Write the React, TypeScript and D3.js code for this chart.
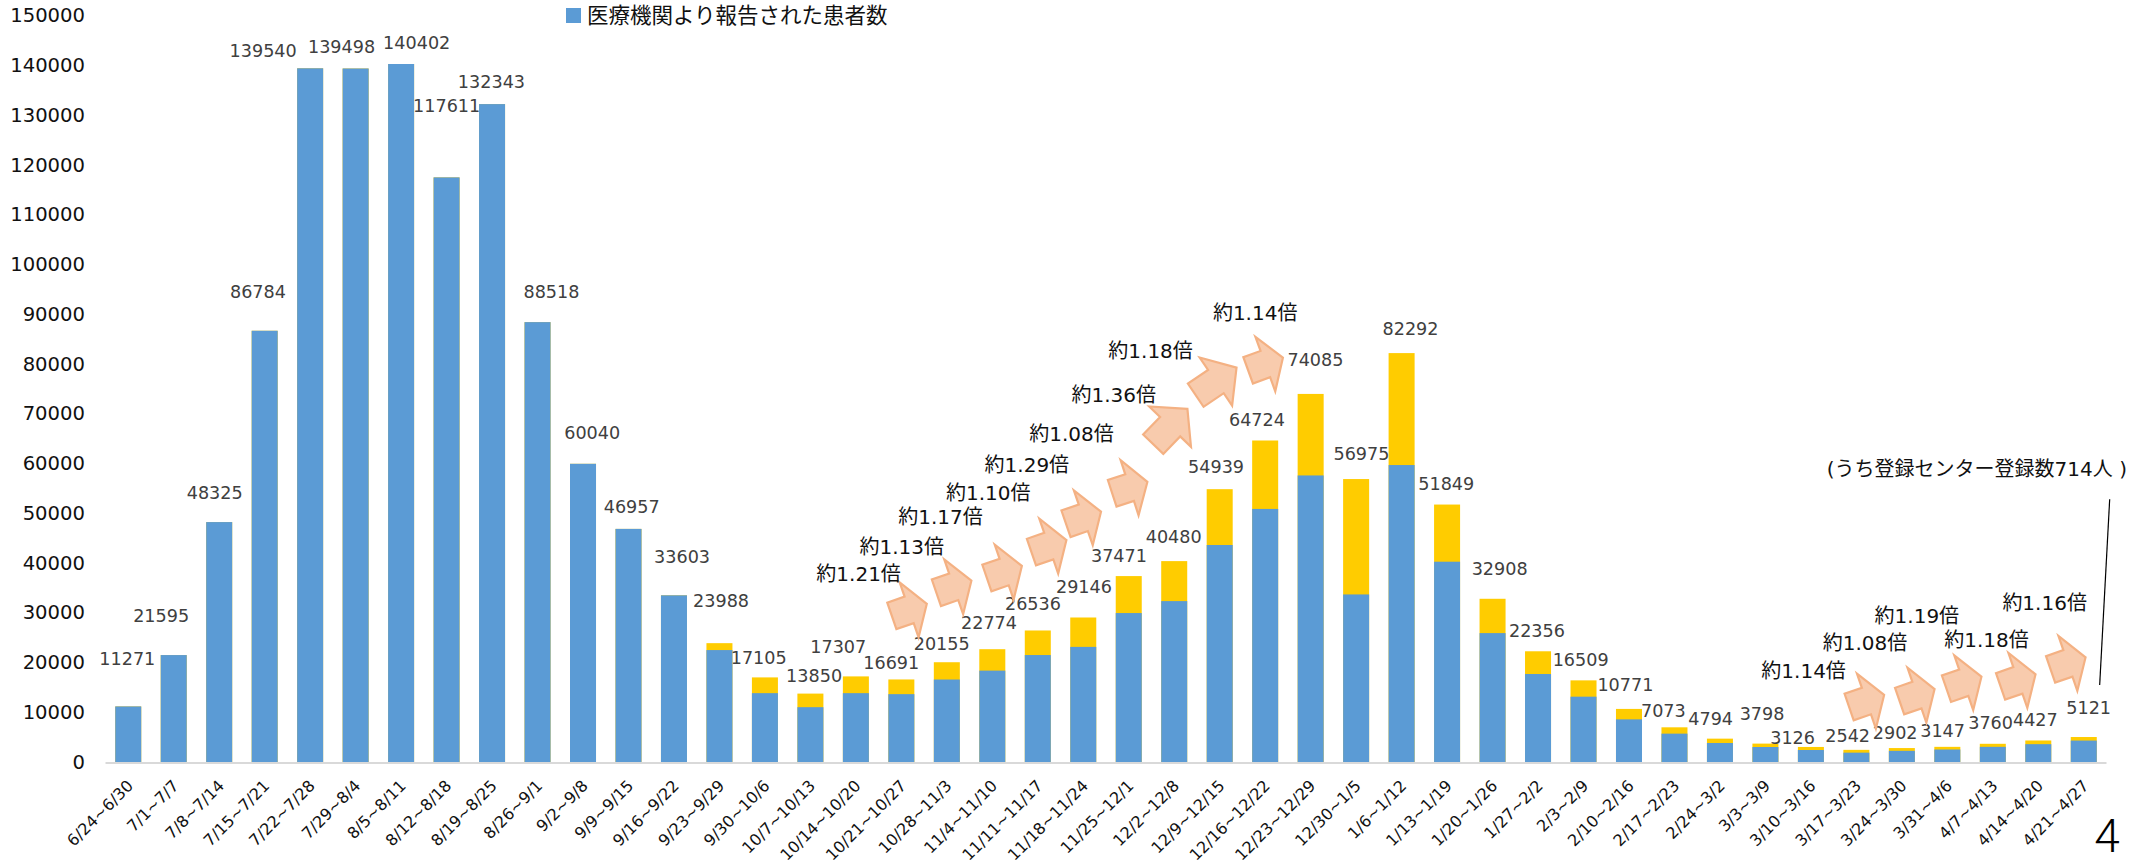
import React from "react";
import * as d3 from "d3";

const categories = ["6/24~6/30","7/1~7/7","7/8~7/14","7/15~7/21","7/22~7/28","7/29~8/4","8/5~8/11","8/12~8/18","8/19~8/25","8/26~9/1","9/2~9/8","9/9~9/15","9/16~9/22","9/23~9/29","9/30~10/6","10/7~10/13","10/14~10/20","10/21~10/27","10/28~11/3","11/4~11/10","11/11~11/17","11/18~11/24","11/25~12/1","12/2~12/8","12/9~12/15","12/16~12/22","12/23~12/29","12/30~1/5","1/6~1/12","1/13~1/19","1/20~1/26","1/27~2/2","2/3~2/9","2/10~2/16","2/17~2/23","2/24~3/2","3/3~3/9","3/10~3/16","3/17~3/23","3/24~3/30","3/31~4/6","4/7~4/13","4/14~4/20","4/21~4/27"];
const totals = [11271,21595,48325,86784,139540,139498,140402,117611,132343,88518,60040,46957,33603,23988,17105,13850,17307,16691,20155,22774,26536,29146,37471,40480,54939,64724,74085,56975,82292,51849,32908,22356,16509,10771,7073,4794,3798,3126,2542,2902,3147,3760,4427,5121];
const reported = [11271,21595,48325,86784,139540,139498,140402,117611,132343,88518,60040,46957,33603,22600,13940,11120,13940,13740,16680,18470,21600,23240,30040,32440,43720,50970,57700,33780,59790,40360,26010,17790,13230,8670,5800,3920,3115,2510,1980,2345,2610,3150,3685,4407];
const yTicks = [0,10000,20000,30000,40000,50000,60000,70000,80000,90000,100000,110000,120000,130000,140000,150000];
const legendLabel = "医療機関より報告された患者数";

// hand-placed label offsets from the top centre of each bar
const labelDx = [-0.9,-12.6,-4.5,-6.7,-47,-14.1,15.6,0.1,-0.6,13.9,9.2,3.2,8.1,1.6,-6.2,3.7,-17.6,-10.1,-5.1,-3.3,-4.8,0.7,-9.8,-0.5,-3.6,-8.2,4.8,5.3,8.9,-0.8,7.1,-1.1,-2.9,-3.6,-11.1,-9.3,-3.4,-18.3,-8.7,-6.7,-4.7,-2.2,-2.9,4.9];
const labelDy = [-47.4,-39.4,-28.8,-39.1,-17.6,-21.8,-21.3,-71.7,-22.4,-30.4,-30.5,-22.2,-38.6,-42.5,-19.7,-17.9,-29.1,-16.8,-18.5,-26.5,-26.5,-30.2,-20.1,-24.6,-22.6,-20,-33.6,-25.4,-24.4,-20.8,-30,-20.7,-20.8,-24.4,-16.1,-19.9,-29.4,-9.4,-13.4,-15.3,-16.2,-20.8,-20.5,-29.5];

// growth ratios: text, text anchor (category position, value)
const ratioText = ["約1.21倍","約1.13倍","約1.17倍","約1.10倍","約1.29倍","約1.08倍","約1.36倍","約1.18倍","約1.14倍","約1.14倍","約1.08倍","約1.19倍","約1.18倍","約1.16倍"];
const ratioPos = [16.06,17.01,17.86,18.91,19.76,20.74,21.67,22.48,24.78,36.84,38.19,39.33,40.86,42.14];
const ratioVal = [37830,43380,49410,54110,59800,66030,73870,82790,90290,18390,24120,29370,24620,31980];

// arrows: tip (category position, value), rotation, length stretch
const arrowPos = [17.56,18.54,19.65,20.63,21.39,22.41,23.29,24.37,25.39,38.61,39.72,40.75,41.94,43.04];
const arrowVal = [31900,36540,39500,44720,50410,56400,71100,79360,81370,13570,14770,17250,17730,21150];
const arrowRot = [-19,-19,-19,-19,-19,-18,-46,-34,-20,-19,-19,-19,-19,-19];
const arrowLen = [1,1,1,1,1,1,1.33,1.33,1,1,1,1,1,1];

const noteText = "(うち登録センター登録数714人 )";
const noteAnchor = [40.65, 59000];
const leaderFrom = [43.57, 52900];
const leaderTo = [43.35, 15580];
const pageNumber = "4";

const FONT = "'DejaVu Sans','Noto Sans CJK JP',sans-serif";

export default function App() {
  const x = d3.scaleBand<string>().domain(categories).range([105.5, 2106.5]).paddingInner(0.428).paddingOuter(0.214);
  const y = d3.scaleLinear().domain([0, 150000]).range([762.5, 16.25]);
  const cx = d3.scaleLinear()
    .domain([0, categories.length - 1])
    .range([x(categories[0])! + x.bandwidth() / 2, x(categories[categories.length - 1])! + x.bandwidth() / 2]);
  const arrowPath = (s: number) => {
    const line = d3.line();
    const hl = 18.7 * s, l = 37 * s;
    return line([[0,0],[-hl,-29],[-hl,-14],[-l,-14],[-l,14],[-hl,14],[-hl,29]])! + "Z";
  };
  return (
    <svg width={2146} height={863} style={{ position: "absolute", left: 0, top: 0, display: "block", background: "#fff" }} fontFamily={FONT}>
      {yTicks.map((t) => (
        <text key={t} x={85} y={y(t) - 0.5} textAnchor="end" dominantBaseline="central" fontSize={19.6} fill="#111">{t}</text>
      ))}
      {categories.map((c, i) => (
        <g key={c}>
          <rect x={x(c)} y={y(totals[i])} width={x.bandwidth()} height={y(0) - y(totals[i])} fill="#FFCC00" />
          <rect x={x(c)} y={y(reported[i])} width={x.bandwidth()} height={y(0) - y(reported[i])} fill="#5B9BD5" />
        </g>
      ))}
      <line x1={x.range()[0]} x2={x.range()[1]} y1={y(0) + 0.5} y2={y(0) + 0.5} stroke="#D9D9D9" strokeWidth={2} />
      {categories.map((c, i) => (
        <text key={c} transform={`translate(${cx(i) + 2},${783}) rotate(-45)`} textAnchor="end" dominantBaseline="central" fontSize={16} fill="#111">{c}</text>
      ))}
      {totals.map((t, i) => (
        <text key={i} x={cx(i) + labelDx[i]} y={y(t) + labelDy[i]} textAnchor="middle" dominantBaseline="central" fontSize={17.6} fill="#404040">{t}</text>
      ))}
      {arrowPos.map((p, i) => (
        <path key={i} d={arrowPath(arrowLen[i])} transform={`translate(${cx(p)},${y(arrowVal[i])}) rotate(${arrowRot[i]})`} fill="#F8CBAD" stroke="#F4B183" strokeWidth={2.2} strokeLinejoin="miter" />
      ))}
      {ratioText.map((t, i) => (
        <text key={i} x={cx(ratioPos[i])} y={y(ratioVal[i])} textAnchor="middle" dominantBaseline="central" fontSize={20} fill="#111">{t}</text>
      ))}
      <line x1={cx(leaderFrom[0])} y1={y(leaderFrom[1])} x2={cx(leaderTo[0])} y2={y(leaderTo[1])} stroke="#000" strokeWidth={1.2} />
      <text x={cx(noteAnchor[0])} y={y(noteAnchor[1])} textAnchor="middle" dominantBaseline="central" fontSize={20} fill="#111">{noteText}</text>
      <rect x={566} y={8} width={15} height={15} fill="#5B9BD5" />
      <text x={587} y={15} dominantBaseline="central" fontSize={21.5} fill="#111">{legendLabel}</text>
      <text x={2107} y={851.5} textAnchor="middle" fontSize={46} fontFamily="Roboto" fontWeight={300} fill="#000">{pageNumber}</text>
    </svg>
  );
}
